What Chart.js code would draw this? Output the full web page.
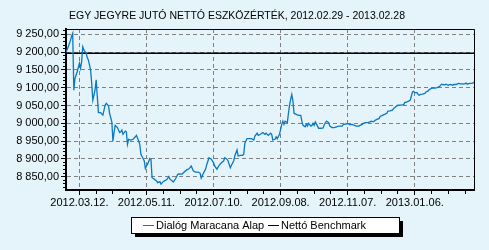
<!DOCTYPE html>
<html>
<head>
<meta charset="utf-8">
<script src="https://cdn.jsdelivr.net/npm/chart.js@4.4.1/dist/chart.umd.min.js"></script>
<style>
    html, body { margin: 0; padding: 0; background: #e4f4fa; }
    canvas { display: block; }
</style>
</head>
<body>
<canvas id="nav-chart" width="489" height="250"></canvas>
<script>
// day 0 = 2012.02.29
const dayIndex = [0,2,4,5,6,7,8,10,12,13,14,15,16,18,19,20,22,23,24,25,26,27,28,29,31,32,33,35,36,38,39,41,42,43,44,46,48,49,50,51,53,54,55,56,58,60,62,63,65,66,67,69,70,71,72,73,75,76,77,79,81,82,84,85,87,88,90,92,93,95,96,98,100,101,104,105,108,110,112,114,116,118,120,121,123,125,126,128,130,132,133,135,137,139,141,142,144,145,147,148,150,151,153,154,156,158,159,160,162,164,166,168,169,171,172,174,176,178,179,181,183,184,185,187,188,189,191,192,193,194,195,196,198,199,200,201,202,203,204,206,208,210,211,212,214,215,216,217,219,220,221,222,223,225,226,228,230,231,233,235,236,238,240,242,244,247,248,250,253,254,256,258,260,262,263,265,266,268,270,272,273,275,277,278,280,281,283,285,287,288,290,292,293,294,296,297,299,301,302,303,305,307,308,309,310,311,312,314,315,316,317,319,321,322,324,325,327,328,330,332,334,336,337,339,340,342,344,346,347,349,351,353,355,356,358,359,361,362,364,365];
const navValues = [9200,9215,9233,9245,9253,9093,9126,9145,9169,9155,9173,9215,9206,9197,9185,9178,9150,9112,9065,9079,9094,9122,9075,9030,9030,9026,9023,9051,9056,9049,9028,9004,8950,8974,8994,8988,8974,8976,8981,8969,8978,8976,8941,8955,8953,8955,8962,8966,8950,8941,8913,8901,8894,8873,8880,8885,8901,8899,8847,8843,8838,8833,8836,8829,8836,8838,8841,8850,8843,8838,8835,8844,8857,8858,8857,8861,8869,8872,8880,8866,8863,8863,8860,8846,8860,8872,8885,8903,8899,8889,8880,8871,8882,8889,8894,8903,8899,8894,8875,8882,8894,8908,8925,8908,8910,8910,8913,8944,8957,8957,8957,8953,8964,8972,8966,8969,8974,8969,8972,8966,8972,8969,8953,8955,8962,8957,8969,8983,8997,9006,8997,9006,9002,9028,9051,9067,9081,9063,9028,9025,9022,9022,9006,8994,8990,8997,8992,9000,8992,8994,9000,8994,9004,8992,8986,8986,8987,8996,9006,9002,8992,8988,8988,8990,8992,8992,8996,8998,8999,8996,8997,8994,8992,8992,8994,8997,9000,9002,9002,9004,9006,9004,9009,9011,9013,9019,9022,9025,9028,9034,9035,9037,9041,9044,9049,9051,9051,9052,9052,9058,9060,9063,9065,9077,9088,9090,9086,9086,9081,9079,9081,9082,9084,9088,9091,9095,9098,9099,9099,9100,9103,9110,9109,9108,9110,9107,9109,9107,9109,9109,9112,9111,9111,9110,9113,9110,9112,9112,9113,9116];
const benchDays = [0, 365];
const benchValues = [9197, 9197];

const xTickDays = [12, 72, 132, 192, 252, 312];
const xTickLabels = ['2012.03.12.', '2012.05.11.', '2012.07.10.', '2012.09.08.', '2012.11.07.', '2013.01.06.'];
const yTickValues = [8850, 8900, 8950, 9000, 9050, 9100, 9150, 9200, 9250];
const yTickLabels = ['8 850,00', '8 900,00', '8 950,00', '9 000,00', '9 050,00', '9 100,00', '9 150,00', '9 200,00', '9 250,00'];

const FONT = '"Liberation Sans", Arial, sans-serif';
Chart.defaults.font.family = FONT;
Chart.defaults.font.size = 11;
Chart.defaults.color = '#000';

// minor ticks: every 15 days on x, every 10 on y
const xMinor = [];
for (let d = 12; d <= 365; d += 15) xMinor.push(d);
const yMinor = [];
for (let v = 8820; v <= 9260; v += 10) yMinor.push(v);

const frame = {
    id: 'frame',
    afterDatasetsDraw(chart) {
        const {ctx, chartArea: a} = chart;
        ctx.save();
        ctx.strokeStyle = '#000';
        ctx.lineWidth = 1;
        ctx.beginPath();
        ctx.moveTo(a.left, Math.round(a.top) + 0.5);
        ctx.lineTo(Math.round(a.right) + 0.5, Math.round(a.top) + 0.5);
        ctx.lineTo(Math.round(a.right) + 0.5, a.bottom);
        ctx.stroke();
        ctx.restore();
    }
};

// legend box with drop shadow, items at fixed spots like the original
const legendBox = {x: 131, y: 217, w: 268, h: 16};
const legendItemX = [143, 268];

const boxLegend = {
    id: 'boxLegend',
    afterDraw(chart) {
        const ctx = chart.ctx;
        const {x: bx, y: by, w: bw, h: bh} = legendBox;
        const cy = by + bh / 2;
        ctx.save();
        ctx.font = '11px ' + FONT;
        ctx.fillStyle = '#000';
        ctx.fillRect(bx + 4, by + 4, bw, bh);
        ctx.fillStyle = '#fff';
        ctx.fillRect(bx, by, bw, bh);
        ctx.strokeStyle = '#000';
        ctx.lineWidth = 1;
        ctx.strokeRect(bx + 0.5, by + 0.5, bw, bh);
        chart.data.datasets.forEach((ds, i) => {
            const x = legendItemX[i];
            ctx.strokeStyle = ds.borderColor;
            ctx.lineWidth = 1;
            ctx.beginPath();
            ctx.moveTo(x, Math.round(cy) + 0.5);
            ctx.lineTo(x + 11, Math.round(cy) + 0.5);
            ctx.stroke();
            ctx.fillStyle = '#000';
            ctx.textBaseline = 'middle';
            ctx.fillText(ds.label, x + 13, cy + 0.5);
        });
        ctx.restore();
    }
};

new Chart(document.getElementById('nav-chart'), {
    type: 'line',
    data: {
        datasets: [{
            label: 'Dialóg Maracana Alap',
            data: dayIndex.map((d, i) => ({x: d, y: navValues[i]})),
            borderColor: '#0a78c2',
            borderWidth: 1.3,
            pointRadius: 0,
            tension: 0
        }, {
            label: 'Nettó Benchmark',
            data: benchDays.map((d, i) => ({x: d, y: benchValues[i]})),
            borderColor: '#000',
            borderWidth: 1.5,
            pointRadius: 0
        }]
    },
    options: {
        responsive: false,
        animation: false,
        layout: { padding: { left: 0, right: 15, top: 0, bottom: 40 } },
        scales: {
            x: {
                type: 'linear',
                min: 0,
                max: 365,
                afterFit: scale => { scale.height = 20; },
                afterBuildTicks: scale => { scale.ticks = xMinor.map(v => ({value: v})); },
                ticks: {
                    autoSkip: false,
                    maxRotation: 0,
                    padding: 1,
                    callback: v => {
                        const i = xTickDays.indexOf(v);
                        return i >= 0 ? xTickLabels[i] : '';
                    }
                },
                grid: {
                    color: c => c.tick && xTickDays.includes(c.tick.value) ? '#808080' : 'rgba(0,0,0,0)',
                    tickColor: '#000',
                    tickLength: 5,
                    tickBorderDash: c => c.tick && xTickDays.includes(c.tick.value) ? [] : [3, 10]
                },
                border: { color: '#000', width: 2, dash: [4, 3] }
            },
            y: {
                min: 8812.5,
                max: 9265,
                afterFit: scale => { scale.width = 66; },
                afterBuildTicks: scale => { scale.ticks = yMinor.map(v => ({value: v})); },
                ticks: {
                    autoSkip: false,
                    padding: 2,
                    callback: v => {
                        const i = yTickValues.indexOf(v);
                        return i >= 0 ? yTickLabels[i] : '';
                    }
                },
                grid: {
                    color: c => c.tick && yTickValues.includes(c.tick.value) ? '#808080' : 'rgba(0,0,0,0)',
                    tickColor: '#000',
                    tickLength: 5,
                    tickBorderDash: c => c.tick && yTickValues.includes(c.tick.value) ? [] : [0, 2, 10]
                },
                border: { color: '#000', width: 2, dash: [4, 3] }
            }
        },
        plugins: {
            legend: { display: false },
            tooltip: { enabled: false },
            title: {
                display: true,
                text: 'EGY JEGYRE JUTÓ NETTÓ ESZKÖZÉRTÉK, 2012.02.29 - 2013.02.28',
                color: '#000',
                font: { size: 10.5, weight: 'normal' },
                padding: { top: 10, bottom: 6.4 }
            }
        }
    },
    plugins: [frame, boxLegend]
});
</script>
</body>
</html>
